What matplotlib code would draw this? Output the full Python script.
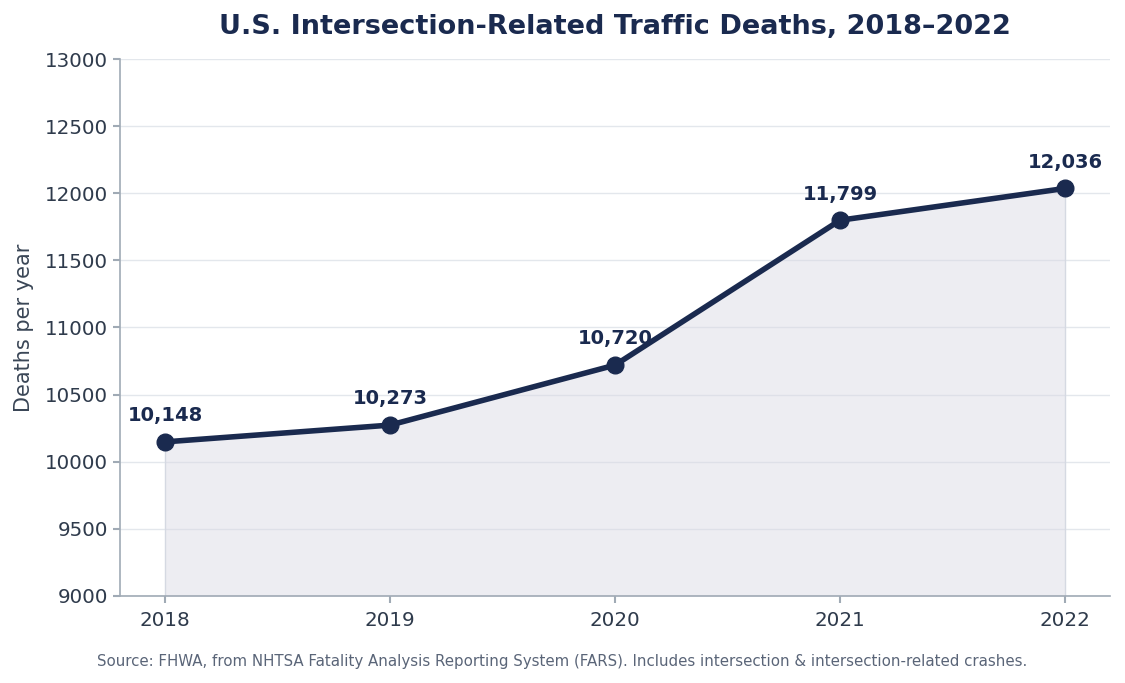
import matplotlib
matplotlib.use("Agg")
import matplotlib.pyplot as plt

years = [2018, 2019, 2020, 2021, 2022]
deaths = [10148, 10273, 10720, 11799, 12036]
labels = ["10,148", "10,273", "10,720", "11,799", "12,036"]
yticks = [9000, 9500, 10000, 10500, 11000, 11500, 12000, 12500, 13000]

navy = "#1a2a4f"
tick_color = "#2f3b4c"

fig = plt.figure(figsize=(11.25, 6.83), dpi=100)
ax = fig.add_axes([0.1067, 0.1274, 0.88, 0.7862])

ax.fill_between(years, deaths, 9000, color="#d8d8e4", alpha=0.45, zorder=1, linewidth=0)
ax.vlines([years[0], years[-1]], 9000, [deaths[0], deaths[-1]], color="#d5d9e2", linewidth=1, zorder=1)
ax.plot(years, deaths, color=navy, linewidth=4, marker="o", markersize=12, zorder=3)

for x, y, t in zip(years, deaths, labels):
    ax.annotate(t, (x, y), xytext=(0, 12), textcoords="offset points",
                ha="center", va="bottom", fontsize=14, fontweight="bold", color=navy)

ax.set_xlim(2017.8, 2022.2)
ax.set_ylim(9000, 13000)
ax.set_xticks(years)
ax.set_yticks(yticks)
ax.tick_params(axis="both", labelsize=14.3, colors="#a0aab5", labelcolor=tick_color, length=5, width=1.5)
ax.tick_params(axis="x", pad=6)
ax.grid(axis="y", color="#e3e7ec", linewidth=1)
ax.set_axisbelow(True)
for s in ["top", "right"]:
    ax.spines[s].set_visible(False)
for s in ["left", "bottom"]:
    ax.spines[s].set_color("#a0aab5")
    ax.spines[s].set_linewidth(1.2)

ax.set_ylabel("Deaths per year", fontsize=15, color="#3a4656", labelpad=8)
ax.set_title("U.S. Intersection-Related Traffic Deaths, 2018\u20132022",
             fontsize=19.5, fontweight="bold", color=navy, pad=18)

fig.text(0.5, 0.032, "Source: FHWA, from NHTSA Fatality Analysis Reporting System (FARS). Includes intersection & intersection-related crashes.",
         ha="center", va="center", fontsize=10.8, color="#5a6578")

fig.savefig("out.png", dpi=100)
